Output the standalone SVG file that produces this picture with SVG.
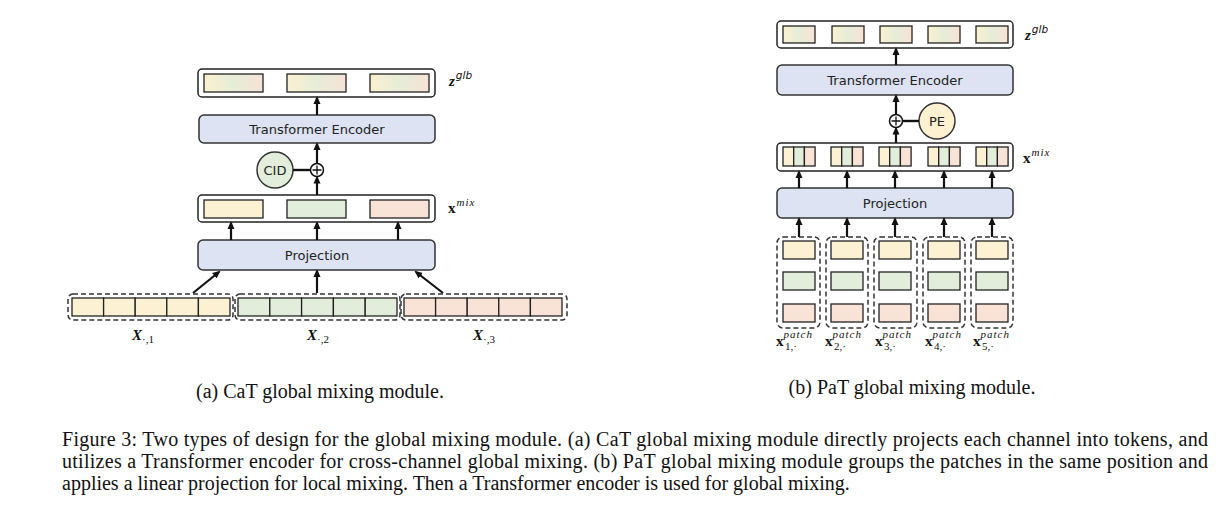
<svg xmlns="http://www.w3.org/2000/svg" width="1216" height="514" viewBox="0 0 1216 514">
<style>
.box{fill:#fff;stroke:#222;stroke-width:1.5}
.blk{fill:#dde3f2;stroke:#333;stroke-width:1.5}
.cell{stroke:#222;stroke-width:1.3}
.y{fill:#fcf1d3}.g{fill:#e3eddb}.p{fill:#f9e3d6}.gr{fill:url(#grad)}
.dash{fill:none;stroke:#333;stroke-width:1.5;stroke-dasharray:5 3}
.lbl{font-family:"DejaVu Sans",sans-serif;font-size:13px;fill:#222;text-anchor:middle}
.math{font-family:"Liberation Serif",serif;fill:#111}
.cap{font-family:"Liberation Serif","Times New Roman",serif;font-size:20px;fill:#111}
.arr{stroke:#111;stroke-width:2.2;fill:none;marker-end:url(#ah)}
.ln{stroke:#111;stroke-width:2.4}
</style>
<defs>
<marker id="ah" markerWidth="8" markerHeight="8" refX="6" refY="4" orient="auto" markerUnits="userSpaceOnUse" viewBox="0 0 8 8"><path d="M0,0.5 L8,4 L0,7.5 Z" fill="#111"/></marker>
<linearGradient id="grad" x1="0" y1="0" x2="1" y2="0"><stop offset="0" stop-color="#fbf0d0"/><stop offset="0.5" stop-color="#e6edd8"/><stop offset="1" stop-color="#f7e2d6"/></linearGradient>
</defs>

<!-- Left: CaT -->
<g id="cat-zglb">
<rect class="box" x="198" y="69" width="237" height="28" rx="4"/>
<rect class="cell gr" x="204" y="74" width="59" height="18"/>
<rect class="cell gr" x="287" y="74" width="59" height="18"/>
<rect class="cell gr" x="370" y="74" width="59" height="18"/>
<text class="math" x="449" y="86" font-size="15"><tspan font-weight="bold" font-style="italic">z</tspan><tspan font-family="DejaVu Sans" font-style="italic" font-size="10.5" dy="-7" dx="1">glb</tspan></text>
</g>
<g id="cat-te">
<rect class="blk" x="199" y="115" width="236" height="28" rx="5"/>
<text class="lbl" x="317" y="134">Transformer Encoder</text>
</g>
<g id="cat-plus">
<circle cx="317" cy="170" r="6.5" fill="#fff" stroke="#111" stroke-width="1.5"/>
<path d="M312.5,170 H321.5 M317,165.5 V174.5" stroke="#111" stroke-width="1.3"/>
</g>
<g id="cat-cid">
<circle cx="275" cy="170" r="18" fill="#e3eddb" stroke="#333" stroke-width="1.5"/>
<text class="lbl" x="275" y="175">CID</text>
</g>
<g id="cat-xmix">
<rect class="box" x="198" y="195" width="237" height="27" rx="4"/>
<rect class="cell y" x="204" y="200" width="59" height="18"/>
<rect class="cell g" x="287" y="200" width="59" height="18"/>
<rect class="cell p" x="370" y="200" width="59" height="18"/>
<text class="math" x="448" y="213" font-size="15"><tspan font-weight="bold">x</tspan><tspan font-style="italic" font-size="11" dy="-7" dx="1" letter-spacing="1">mix</tspan></text>
</g>
<g id="cat-proj">
<rect class="blk" x="198" y="240" width="237" height="30" rx="5"/>
<text class="lbl" x="317" y="260">Projection</text>
</g>
<g id="cat-x1">
<rect class="dash" x="68" y="294" width="165" height="26" rx="5"/>
<rect class="cell y" x="72" y="298" width="31.6" height="18"/><rect class="cell y" x="103.6" y="298" width="31.6" height="18"/><rect class="cell y" x="135.2" y="298" width="31.6" height="18"/><rect class="cell y" x="166.8" y="298" width="31.6" height="18"/><rect class="cell y" x="198.4" y="298" width="31.6" height="18"/>
<text class="math" x="143" y="340" font-size="15" text-anchor="middle"><tspan font-weight="bold" font-style="italic">X</tspan><tspan font-size="11" dy="3">·,1</tspan></text>
</g>
<g id="cat-x2">
<rect class="dash" x="235" y="294" width="165" height="26" rx="5"/>
<rect class="cell g" x="238" y="298" width="31.8" height="18"/><rect class="cell g" x="269.8" y="298" width="31.8" height="18"/><rect class="cell g" x="301.6" y="298" width="31.8" height="18"/><rect class="cell g" x="333.4" y="298" width="31.8" height="18"/><rect class="cell g" x="365.2" y="298" width="31.8" height="18"/>
<text class="math" x="318" y="340" font-size="15" text-anchor="middle"><tspan font-weight="bold" font-style="italic">X</tspan><tspan font-size="11" dy="3">·,2</tspan></text>
</g>
<g id="cat-x3">
<rect class="dash" x="401" y="294" width="166" height="26" rx="5"/>
<rect class="cell p" x="404" y="298" width="31.6" height="18"/><rect class="cell p" x="435.6" y="298" width="31.6" height="18"/><rect class="cell p" x="467.2" y="298" width="31.6" height="18"/><rect class="cell p" x="498.8" y="298" width="31.6" height="18"/><rect class="cell p" x="530.4" y="298" width="31.6" height="18"/>
<text class="math" x="484" y="340" font-size="15" text-anchor="middle"><tspan font-weight="bold" font-style="italic">X</tspan><tspan font-size="11" dy="3">·,3</tspan></text>
</g>

<!-- Right: PaT -->
<g id="pat-zglb">
<rect class="box" x="777" y="21" width="236" height="27" rx="4"/>
<rect class="cell gr" x="783" y="26" width="32" height="17"/>
<rect class="cell gr" x="832" y="26" width="32" height="17"/>
<rect class="cell gr" x="880" y="26" width="32" height="17"/>
<rect class="cell gr" x="928" y="26" width="32" height="17"/>
<rect class="cell gr" x="976" y="26" width="32" height="17"/>
<text class="math" x="1025" y="40" font-size="15"><tspan font-weight="bold" font-style="italic">z</tspan><tspan font-family="DejaVu Sans" font-style="italic" font-size="10.5" dy="-7" dx="1">glb</tspan></text>
</g>
<g id="pat-te">
<rect class="blk" x="777" y="65" width="236" height="30" rx="5"/>
<text class="lbl" x="895" y="85">Transformer Encoder</text>
</g>
<g id="pat-plus">
<circle cx="896" cy="121" r="6.5" fill="#fff" stroke="#111" stroke-width="1.5"/>
<path d="M891.5,121 H900.5 M896,116.5 V125.5" stroke="#111" stroke-width="1.3"/>
</g>
<g id="pat-pe">
<circle cx="937" cy="121" r="18" fill="#fdf1d2" stroke="#333" stroke-width="1.5"/>
<text class="lbl" x="937" y="126">PE</text>
</g>
<g id="pat-xmix">
<rect class="box" x="777" y="143" width="236" height="28" rx="4"/>
<g id="pat-mix-cells">
<rect class="cell y" x="783" y="147" width="10.7" height="19"/><rect class="cell g" x="793.7" y="147" width="10.7" height="19"/><rect class="cell p" x="804.4" y="147" width="10.7" height="19"/>
<rect class="cell y" x="831" y="147" width="10.7" height="19"/><rect class="cell g" x="841.7" y="147" width="10.7" height="19"/><rect class="cell p" x="852.4" y="147" width="10.7" height="19"/>
<rect class="cell y" x="879" y="147" width="10.7" height="19"/><rect class="cell g" x="889.7" y="147" width="10.7" height="19"/><rect class="cell p" x="900.4" y="147" width="10.7" height="19"/>
<rect class="cell y" x="928" y="147" width="10.7" height="19"/><rect class="cell g" x="938.7" y="147" width="10.7" height="19"/><rect class="cell p" x="949.4" y="147" width="10.7" height="19"/>
<rect class="cell y" x="976" y="147" width="10.7" height="19"/><rect class="cell g" x="986.7" y="147" width="10.7" height="19"/><rect class="cell p" x="997.4" y="147" width="10.7" height="19"/>
</g>
<text class="math" x="1023" y="163" font-size="15"><tspan font-weight="bold">x</tspan><tspan font-style="italic" font-size="11" dy="-7" dx="1" letter-spacing="1">mix</tspan></text>
</g>
<g id="pat-proj">
<rect class="blk" x="777" y="188" width="236" height="30" rx="5"/>
<text class="lbl" x="895" y="208">Projection</text>
</g>
<g id="pat-p1">
<rect class="dash" x="777" y="237" width="43" height="91" rx="6"/>
<rect class="cell y" x="783" y="241" width="32" height="18"/><rect class="cell g" x="783" y="272" width="32" height="18"/><rect class="cell p" x="783" y="304" width="32" height="18"/>
<text class="math" x="776" y="346" font-size="15"><tspan font-weight="bold">x</tspan><tspan font-style="italic" font-size="11" dy="-8" letter-spacing="1">patch</tspan><tspan font-size="11" x="785" dy="12">1,·</tspan></text>
</g>
<g id="pat-p2">
<rect class="dash" x="826" y="237" width="42" height="91" rx="6"/>
<rect class="cell y" x="831" y="241" width="32" height="18"/><rect class="cell g" x="831" y="272" width="32" height="18"/><rect class="cell p" x="831" y="304" width="32" height="18"/>
<text class="math" x="825" y="346" font-size="15"><tspan font-weight="bold">x</tspan><tspan font-style="italic" font-size="11" dy="-8" letter-spacing="1">patch</tspan><tspan font-size="11" x="834" dy="12">2,·</tspan></text>
</g>
<g id="pat-p3">
<rect class="dash" x="874" y="237" width="43" height="91" rx="6"/>
<rect class="cell y" x="879" y="241" width="32" height="18"/><rect class="cell g" x="879" y="272" width="32" height="18"/><rect class="cell p" x="879" y="304" width="32" height="18"/>
<text class="math" x="875" y="346" font-size="15"><tspan font-weight="bold">x</tspan><tspan font-style="italic" font-size="11" dy="-8" letter-spacing="1">patch</tspan><tspan font-size="11" x="884" dy="12">3,·</tspan></text>
</g>
<g id="pat-p4">
<rect class="dash" x="923" y="237" width="42" height="91" rx="6"/>
<rect class="cell y" x="928" y="241" width="32" height="18"/><rect class="cell g" x="928" y="272" width="32" height="18"/><rect class="cell p" x="928" y="304" width="32" height="18"/>
<text class="math" x="925" y="346" font-size="15"><tspan font-weight="bold">x</tspan><tspan font-style="italic" font-size="11" dy="-8" letter-spacing="1">patch</tspan><tspan font-size="11" x="934" dy="12">4,·</tspan></text>
</g>
<g id="pat-p5">
<rect class="dash" x="971" y="237" width="42" height="91" rx="6"/>
<rect class="cell y" x="976" y="241" width="32" height="18"/><rect class="cell g" x="976" y="272" width="32" height="18"/><rect class="cell p" x="976" y="304" width="32" height="18"/>
<text class="math" x="973" y="346" font-size="15"><tspan font-weight="bold">x</tspan><tspan font-style="italic" font-size="11" dy="-8" letter-spacing="1">patch</tspan><tspan font-size="11" x="982" dy="12">5,·</tspan></text>
</g>

<!-- Connectors -->
<g id="connectors">
<line class="arr" x1="317" y1="115" x2="317" y2="98"/>
<line class="arr" x1="317" y1="163.5" x2="317" y2="144"/>
<line class="arr" x1="317" y1="195" x2="317" y2="177.5"/>
<line class="ln" x1="293" y1="170" x2="310.5" y2="170"/>
<line class="arr" x1="231" y1="240" x2="231" y2="223"/>
<line class="arr" x1="317" y1="240" x2="317" y2="223"/>
<line class="arr" x1="398" y1="240" x2="398" y2="223"/>
<line class="arr" x1="193" y1="293" x2="219" y2="272"/>
<line class="arr" x1="317" y1="293" x2="317" y2="271"/>
<line class="arr" x1="443" y1="293" x2="416" y2="272"/>

<line class="arr" x1="896" y1="65" x2="896" y2="49"/>
<line class="arr" x1="896" y1="114.5" x2="896" y2="96"/>
<line class="arr" x1="896" y1="143" x2="896" y2="128.5"/>
<line class="ln" x1="902.5" y1="121" x2="919" y2="121"/>
<line class="arr" x1="799" y1="188" x2="799" y2="172"/>
<line class="arr" x1="847" y1="188" x2="847" y2="172"/>
<line class="arr" x1="895" y1="188" x2="895" y2="172"/>
<line class="arr" x1="944" y1="188" x2="944" y2="172"/>
<line class="arr" x1="992" y1="188" x2="992" y2="172"/>
<line class="arr" x1="799" y1="237" x2="799" y2="219"/>
<line class="arr" x1="847" y1="237" x2="847" y2="219"/>
<line class="arr" x1="895" y1="237" x2="895" y2="219"/>
<line class="arr" x1="944" y1="237" x2="944" y2="219"/>
<line class="arr" x1="992" y1="237" x2="992" y2="219"/>
</g>

<!-- Captions -->
<text class="cap" x="320" y="398" text-anchor="middle" font-size="21">(a) CaT global mixing module.</text>
<text class="cap" x="912" y="394" text-anchor="middle" font-size="21">(b) PaT global mixing module.</text>
<text class="cap" x="62" y="446" textLength="1146" lengthAdjust="spacing">Figure 3: Two types of design for the global mixing module. (a) CaT global mixing module directly projects each channel into tokens, and</text>
<text class="cap" x="62" y="468" textLength="1146" lengthAdjust="spacing">utilizes a Transformer encoder for cross-channel global mixing. (b) PaT global mixing module groups the patches in the same position and</text>
<text class="cap" x="62" y="490">applies a linear projection for local mixing. Then a Transformer encoder is used for global mixing.</text>
</svg>
